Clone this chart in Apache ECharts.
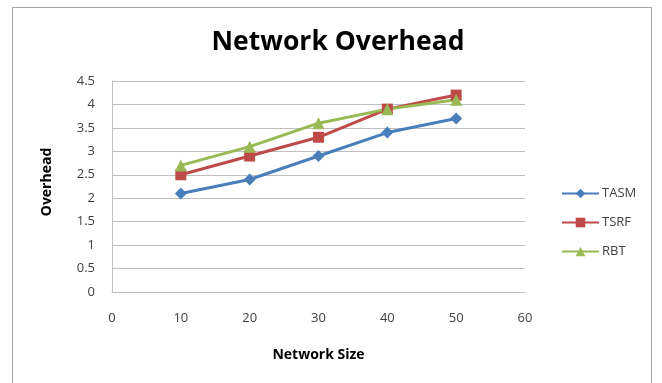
<!DOCTYPE html>
<html>
<head>
<meta charset="utf-8">
<script src="https://cdn.jsdelivr.net/npm/echarts@6/dist/echarts.min.js"></script>
<style>
  html, body { margin: 0; padding: 0; background: #fff; }
  #frame { position: absolute; left: 12px; top: 7px; width: 640px; height: 390px; border: 1px solid #a6a6a6; box-sizing: border-box; }
  #chart { position: absolute; left: 0; top: 0; width: 662px; height: 383px; }
</style>
</head>
<body>
<div id="frame"></div>
<div id="chart"></div>
<script>
// Network size on the x axis, overhead per protocol
const networkSize = [10, 20, 30, 40, 50];
const tasm = [2.1, 2.4, 2.9, 3.4, 3.7];
const tsrf = [2.5, 2.9, 3.3, 3.9, 4.2];
const rbt  = [2.7, 3.1, 3.6, 3.9, 4.1];
const yTicks = [0, 0.5, 1, 1.5, 2, 2.5, 3, 3.5, 4, 4.5];

const font = '"Open Sans", sans-serif';
const pair = arr => networkSize.map((x, i) => [x, arr[i]]);

const chart = echarts.init(document.getElementById('chart'), null, { renderer: 'canvas' });

function lineSeries(name, data, color, symbol, size) {
  return {
    name, type: 'line', data: pair(data),
    symbol, symbolSize: size,
    lineStyle: { color, width: 3 },
    itemStyle: { color },
    emphasis: { disabled: true }
  };
}

chart.setOption({
  animation: false,
  title: {
    text: 'Network Overhead',
    left: 333, top: 24, textAlign: 'center',
    textStyle: { fontFamily: font, fontWeight: 'bold', fontSize: 26.5, color: '#000' }
  },
  grid: { left: 112, right: 137, top: 81, bottom: 91 },
  legend: {
    orient: 'vertical', left: 556, top: 182, itemGap: 16,
    itemWidth: 37, itemHeight: 12,
    textStyle: { fontFamily: font, fontSize: 13, color: '#404040', padding: [0, 0, 0, -2] },
    data: ['TASM', 'TSRF', 'RBT']
  },
  xAxis: {
    type: 'value', min: 0, max: 60, interval: 10,
    name: 'Network Size', nameLocation: 'middle', nameGap: 56,
    nameTextStyle: { fontFamily: font, fontWeight: 'bold', fontSize: 14, color: '#000' },
    axisLine: { show: true, lineStyle: { color: '#bfbfbf' } },
    axisTick: { show: false },
    axisLabel: { fontFamily: font, fontSize: 13, color: '#404040', margin: 20 },
    splitLine: { show: false }
  },
  yAxis: {
    type: 'value', min: 0, max: 4.5, interval: 0.5,
    name: 'Overhead', nameLocation: 'middle', nameGap: 58, nameRotate: 90,
    nameTextStyle: { fontFamily: font, fontWeight: 'bold', fontSize: 14, color: '#000', padding: [0, 0, 0, 9] },
    axisLine: { show: true, lineStyle: { color: '#bfbfbf' } },
    axisTick: { show: false },
    axisLabel: {
      fontFamily: font, fontSize: 13, color: '#404040', margin: 17,
      formatter: v => yTicks.includes(v) ? String(v) : ''
    },
    splitLine: { show: true, lineStyle: { color: '#bfbfbf', width: 1 } }
  },
  series: [
    lineSeries('TASM', tasm, '#4a7ebb', 'diamond', 12),
    lineSeries('TSRF', tsrf, '#be4b48', 'rect', 11),
    lineSeries('RBT', rbt, '#98b954', 'triangle', 12)
  ]
});
</script>
</body>
</html>
